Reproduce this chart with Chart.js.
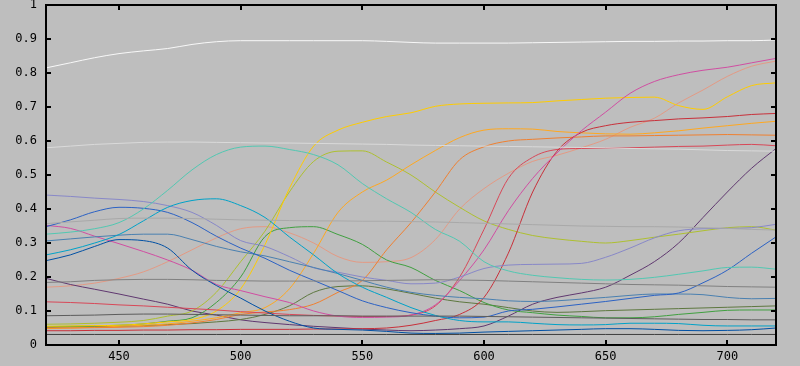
<!DOCTYPE html>
<html>
<head>
<meta charset="utf-8">
<script src="https://cdn.jsdelivr.net/npm/chart.js@4"></script>
<style>
  html, body { margin: 0; padding: 0; background: #bebebe; }
  #wrap { width: 800px; height: 366px; }
</style>
</head>
<body>
<div id="wrap"><canvas id="spectra" width="800" height="366"></canvas></div>
<script>
// wavelengths, nm, every 10 from 420 to 720
let wavelengths = [];
for (let w = 420; w <= 720; w += 10) wavelengths.push(w);

let xTicks = [450, 500, 550, 600, 650, 700];

// reflectance, one value per wavelength
let white      = [0.815,0.83,0.845,0.857,0.865,0.872,0.884,0.892,0.895,0.895,0.895,0.895,0.895,0.895,0.893,0.89,0.888,0.888,0.888,0.888,0.889,0.89,0.891,0.892,0.893,0.893,0.894,0.894,0.895,0.895,0.897];
let neutral8   = [0.58,0.585,0.59,0.593,0.596,0.597,0.597,0.596,0.595,0.594,0.594,0.593,0.592,0.591,0.59,0.588,0.587,0.586,0.585,0.584,0.583,0.582,0.581,0.58,0.578,0.577,0.576,0.574,0.572,0.571,0.57];
let neutral65  = [0.357,0.362,0.367,0.372,0.373,0.373,0.372,0.37,0.368,0.367,0.366,0.365,0.365,0.364,0.364,0.363,0.362,0.36,0.358,0.356,0.354,0.352,0.35,0.349,0.348,0.348,0.347,0.345,0.343,0.34,0.338];
let neutral5   = [0.184,0.186,0.19,0.192,0.193,0.193,0.192,0.19,0.189,0.188,0.188,0.188,0.188,0.189,0.19,0.191,0.192,0.191,0.19,0.188,0.186,0.184,0.182,0.18,0.178,0.177,0.176,0.174,0.172,0.171,0.17];
let neutral35  = [0.086,0.087,0.088,0.09,0.091,0.091,0.09,0.089,0.088,0.087,0.086,0.086,0.086,0.085,0.085,0.085,0.085,0.085,0.084,0.083,0.082,0.081,0.08,0.079,0.078,0.077,0.076,0.075,0.075,0.074,0.074];
let black      = [0.031,0.031,0.031,0.031,0.031,0.031,0.031,0.031,0.031,0.031,0.031,0.031,0.031,0.031,0.031,0.031,0.031,0.031,0.031,0.031,0.031,0.031,0.031,0.031,0.031,0.031,0.031,0.031,0.031,0.031,0.031];
let bluishGreen = [0.326,0.332,0.342,0.36,0.4,0.455,0.515,0.56,0.582,0.585,0.575,0.56,0.53,0.475,0.43,0.39,0.34,0.305,0.245,0.218,0.205,0.198,0.193,0.191,0.193,0.199,0.208,0.218,0.228,0.229,0.223];
let cyan       = [0.265,0.28,0.3,0.325,0.365,0.405,0.425,0.43,0.41,0.375,0.318,0.265,0.21,0.17,0.14,0.11,0.087,0.072,0.068,0.068,0.064,0.06,0.059,0.06,0.064,0.064,0.063,0.058,0.056,0.056,0.056];
let blue       = [0.248,0.265,0.29,0.31,0.307,0.285,0.22,0.175,0.138,0.1,0.07,0.05,0.046,0.044,0.04,0.035,0.034,0.035,0.038,0.04,0.042,0.044,0.046,0.048,0.048,0.046,0.043,0.042,0.043,0.045,0.05];
let purplishBlue = [0.348,0.368,0.392,0.405,0.402,0.39,0.36,0.32,0.285,0.255,0.22,0.19,0.16,0.13,0.11,0.095,0.085,0.08,0.082,0.1,0.105,0.112,0.12,0.128,0.137,0.146,0.153,0.183,0.22,0.27,0.318];
let blueSky    = [0.306,0.312,0.318,0.323,0.326,0.326,0.31,0.29,0.274,0.262,0.245,0.228,0.21,0.19,0.17,0.155,0.146,0.14,0.136,0.13,0.128,0.13,0.135,0.14,0.146,0.15,0.15,0.148,0.14,0.136,0.137];
let blueFlower = [0.441,0.437,0.432,0.428,0.422,0.41,0.39,0.352,0.307,0.29,0.26,0.227,0.214,0.2,0.19,0.18,0.182,0.2,0.225,0.235,0.237,0.238,0.24,0.258,0.285,0.315,0.336,0.342,0.343,0.345,0.355];
let magenta    = [0.352,0.343,0.32,0.298,0.275,0.25,0.22,0.178,0.16,0.142,0.125,0.1,0.085,0.081,0.082,0.088,0.118,0.19,0.28,0.395,0.49,0.565,0.63,0.685,0.74,0.775,0.795,0.808,0.817,0.83,0.843];
let red        = [0.042,0.042,0.043,0.043,0.044,0.044,0.045,0.045,0.046,0.046,0.046,0.047,0.047,0.048,0.05,0.058,0.072,0.09,0.14,0.27,0.45,0.57,0.625,0.645,0.655,0.66,0.665,0.668,0.672,0.678,0.681];
let moderateRed = [0.127,0.125,0.122,0.118,0.115,0.111,0.107,0.103,0.098,0.094,0.09,0.087,0.085,0.084,0.084,0.088,0.115,0.2,0.34,0.49,0.552,0.575,0.578,0.579,0.58,0.582,0.584,0.585,0.588,0.59,0.586];
let orange     = [0.05,0.05,0.051,0.052,0.054,0.058,0.065,0.075,0.09,0.097,0.104,0.12,0.155,0.19,0.28,0.36,0.45,0.545,0.583,0.6,0.605,0.609,0.612,0.615,0.615,0.616,0.617,0.618,0.619,0.618,0.617];
let orangeYellow = [0.048,0.05,0.052,0.055,0.058,0.062,0.07,0.08,0.095,0.11,0.165,0.27,0.39,0.45,0.485,0.53,0.572,0.61,0.632,0.636,0.635,0.628,0.624,0.621,0.62,0.624,0.63,0.638,0.645,0.652,0.658];
let yellow     = [0.055,0.056,0.057,0.058,0.062,0.068,0.075,0.1,0.165,0.295,0.46,0.585,0.632,0.655,0.672,0.683,0.702,0.709,0.711,0.712,0.713,0.718,0.722,0.726,0.728,0.729,0.704,0.693,0.73,0.763,0.771];
let yellowGreen = [0.061,0.062,0.064,0.067,0.072,0.085,0.1,0.155,0.245,0.335,0.45,0.54,0.57,0.571,0.538,0.5,0.45,0.405,0.365,0.34,0.322,0.312,0.305,0.3,0.307,0.317,0.326,0.336,0.345,0.348,0.338];
let green      = [0.054,0.055,0.056,0.058,0.062,0.07,0.08,0.125,0.2,0.319,0.345,0.348,0.325,0.296,0.25,0.228,0.19,0.16,0.125,0.103,0.095,0.088,0.084,0.08,0.08,0.083,0.09,0.096,0.102,0.103,0.103];
let foliage    = [0.052,0.053,0.054,0.055,0.057,0.06,0.063,0.068,0.075,0.09,0.115,0.155,0.172,0.174,0.165,0.152,0.138,0.127,0.12,0.11,0.1,0.096,0.098,0.101,0.103,0.105,0.107,0.109,0.111,0.113,0.115];
let purple     = [0.196,0.178,0.164,0.15,0.135,0.12,0.1,0.088,0.074,0.066,0.06,0.055,0.051,0.047,0.044,0.042,0.044,0.048,0.056,0.085,0.12,0.14,0.153,0.17,0.205,0.245,0.3,0.375,0.45,0.52,0.578];
let lightSkin  = [0.17,0.174,0.182,0.196,0.215,0.245,0.28,0.315,0.342,0.348,0.33,0.3,0.26,0.243,0.245,0.257,0.31,0.4,0.46,0.505,0.54,0.558,0.58,0.605,0.64,0.667,0.712,0.75,0.79,0.82,0.835];

let seriesNames = ['white','neutral 8','neutral 6.5','neutral 5','neutral 3.5','black',
  'bluish green','cyan','blue','purplish blue','blue sky','blue flower','magenta','red',
  'moderate red','orange','orange yellow','yellow','yellow green','green','foliage','purple','light skin'];
let seriesValues = [white, neutral8, neutral65, neutral5, neutral35, black,
  bluishGreen, cyan, blue, purplishBlue, blueSky, blueFlower, magenta, red,
  moderateRed, orange, orangeYellow, yellow, yellowGreen, green, foliage, purple, lightSkin];
let seriesColors = ['#f8f8f8','#dadada','#a9a9a9','#808080','#5c5c5c','#3e3e3e',
  '#52c8b2','#00a2c8','#0050a4','#2c62c4','#4a80b0','#8888c8','#d04ea2','#c8303a',
  '#d84858','#f08030','#ffa820','#ffcc00','#aec030','#40a040','#5e7840','#603870','#e49a84'];

// frame and inward ticks on all four sides
let framePlugin = {
  id: 'frame',
  afterDatasetsDraw(chart) {
    let ctx = chart.ctx;
    let a = chart.chartArea;
    let xs = chart.scales.x, ys = chart.scales.y;
    ctx.save();
    ctx.strokeStyle = '#000';
    ctx.lineWidth = 2;
    ctx.strokeRect(a.left, a.top, a.right - a.left, a.bottom - a.top);
    ctx.beginPath();
    xs.ticks.forEach(t => {
      let px = Math.round(xs.getPixelForValue(t.value));
      ctx.moveTo(px, a.bottom); ctx.lineTo(px, a.bottom - 5);
      ctx.moveTo(px, a.top); ctx.lineTo(px, a.top + 5);
    });
    ys.ticks.forEach(t => {
      let py = Math.round(ys.getPixelForValue(t.value));
      ctx.moveTo(a.left, py); ctx.lineTo(a.left + 5, py);
      ctx.moveTo(a.right, py); ctx.lineTo(a.right - 5, py);
    });
    ctx.stroke();
    ctx.restore();
  }
};

let bgPlugin = {
  id: 'bg',
  beforeDraw(chart) {
    let ctx = chart.ctx;
    ctx.save();
    ctx.fillStyle = '#bebebe';
    ctx.fillRect(0, 0, chart.width, chart.height);
    ctx.restore();
  }
};

let datasets = seriesValues.map((vals, i) => ({
  label: seriesNames[i],
  data: vals.map((v, j) => ({ x: wavelengths[j], y: v })),
  borderColor: seriesColors[i],
  borderWidth: 1,
  pointRadius: 0,
  fill: false,
  cubicInterpolationMode: 'monotone'
}));

new Chart(document.getElementById('spectra'), {
  type: 'line',
  data: { datasets: datasets },
  options: {
    responsive: false,
    animation: false,
    devicePixelRatio: 1,
    layout: { padding: { top: 5, right: 24, left: 0, bottom: 0 } },
    plugins: { legend: { display: false }, tooltip: { enabled: false } },
    scales: {
      x: {
        type: 'linear',
        min: 420,
        max: 720,
        afterBuildTicks: scale => { scale.ticks = xTicks.map(v => ({ value: v })); },
        afterFit: scale => { scale.height = 21; scale.paddingLeft = 0; scale.paddingRight = 0; },
        grid: { display: false, drawTicks: false },
        border: { display: false },
        ticks: { color: '#000', padding: 5, maxRotation: 0, font: { family: 'DejaVu Sans Mono', size: 12 } }
      },
      y: {
        min: 0,
        max: 1,
        afterFit: scale => { scale.width = 46; scale.paddingTop = 0; scale.paddingBottom = 0; },
        grid: { display: false, drawTicks: false },
        border: { display: false },
        ticks: {
          stepSize: 0.1,
          color: '#000',
          padding: 9,
          font: { family: 'DejaVu Sans Mono', size: 12 },
          callback: v => String(Math.round(v * 10) / 10)
        }
      }
    }
  },
  plugins: [bgPlugin, framePlugin]
});
</script>
</body>
</html>
